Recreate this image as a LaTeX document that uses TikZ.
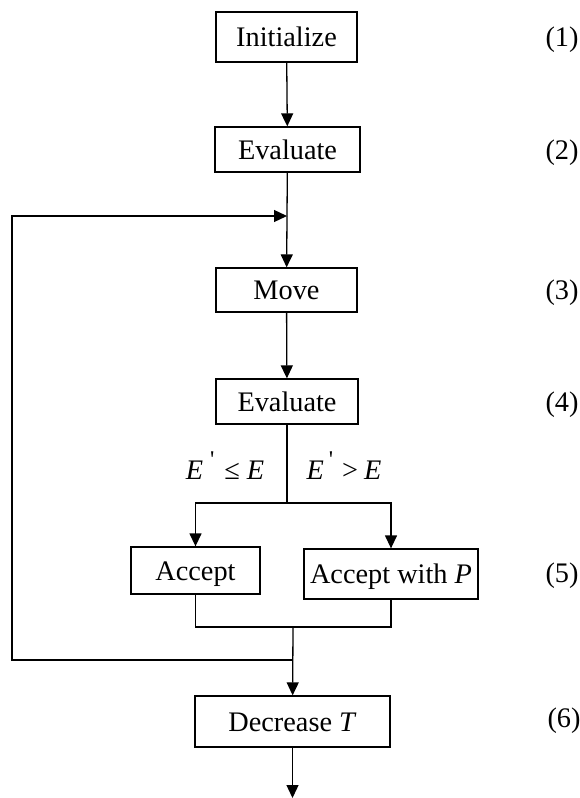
\documentclass[tikz,border=0pt]{standalone}
\usepackage{fontspec}
\setmainfont{Liberation Serif}
\usetikzlibrary{arrows.meta}
\newcommand{\pmark}{\raisebox{.42em}{\fontsize{24}{24}\selectfont\textquotesingle}}
\begin{document}
\begin{tikzpicture}[x=1pt,y=-1pt,
  line width=1.3pt,
  txt/.style={font=\fontsize{28.3}{34}\selectfont, inner sep=0pt,
              text height=24pt, text depth=5pt},
  stepbox/.style={txt, draw, rectangle, minimum width=#1},
  arr/.style={-{Triangle[length=13pt,width=12pt]}}]
\path[use as bounding box] (0,0) rectangle (579,798);

% process boxes
\node[stepbox=141, minimum height=50] (init)  at (286.5,37)   {Initialize};
\node[stepbox=145, minimum height=45] (eval1) at (287.5,149.5) {Evaluate};
\node[stepbox=141, minimum height=44] (move)  at (286.5,290)  {Move};
\node[stepbox=142, minimum height=45] (eval2) at (287,401.5)  {Evaluate};
\node[stepbox=129, minimum height=47] (acc)   at (195.5,570.5) {Accept};
\node[stepbox=174, minimum height=50] (accp)  at (391,574)    {Accept with \textit{P}};
\node[stepbox=195, minimum height=51] (dect)  at (292.5,721.5) {Decrease \textit{T}};

% step numbers
\node[txt] (n1) at (562,37)  {(1)};
\node[txt] (n2) at (562,150) {(2)};
\node[txt] (n3) at (562,290) {(3)};
\node[txt] (n4) at (562,402) {(4)};
\node[txt] (n5) at (562,573) {(5)};
\node[txt] (n6) at (564,718) {(6)};

% branch conditions
\node[txt] (c1) at (225,470) {\textit{E}\hspace{7pt}\pmark\hspace{10pt}≤\hspace{7pt}\textit{E}};
\node[txt] (c2) at (344,470) {\textit{E}\hspace{5pt}\pmark\hspace{9pt}>\hspace{6pt}\textit{E}};

% junction points
\coordinate (loop)   at (287,216);
\coordinate (corner) at (12,216);
\coordinate (split)  at (287,503);
\coordinate (merge)  at (293,627);
\coordinate (fb)     at (293,660);
\coordinate (out)    at (292.5,798);

% connectors
\draw[arr] (init) -- (eval1);
\draw (eval1) -- (loop);
\draw[arr] (loop) -- (move);
\draw[arr] (move) -- (eval2);
\draw (eval2) -- (split);
\draw[arr] (split) -| (acc);
\draw[arr] (split) -| (accp);
\draw (acc.south) |- (merge) -| (accp.south);
\draw[arr] (merge) -- (dect);
\draw[arr] (fb) -| (corner) -- (loop);
\draw[arr] (dect) -- (out);
\end{tikzpicture}
\end{document}
